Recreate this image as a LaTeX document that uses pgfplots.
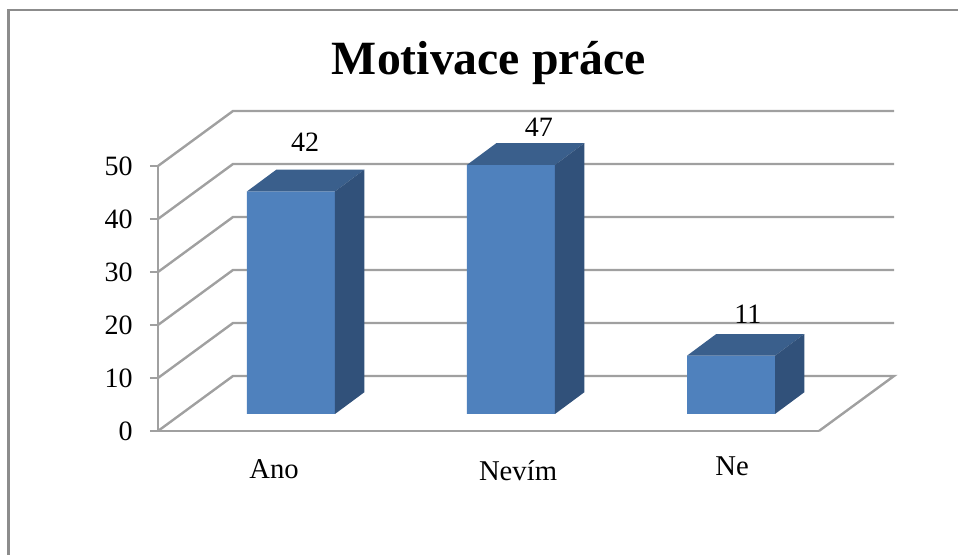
\documentclass[border=0pt]{standalone}
\usepackage{fontspec}
\setmainfont{Liberation Serif}
\usepackage{pgfplots}
\usepackage{pgfplotstable}
\pgfplotsset{compat=1.18}
\definecolor{barfront}{HTML}{4F81BD}
\definecolor{bartop}{HTML}{3A5F8C}
\definecolor{barside}{HTML}{31517A}
\definecolor{gridc}{HTML}{A0A0A0}
\definecolor{framec}{HTML}{8C8C8C}
\pgfplotstableread{
x v
0 42
1 47
2 11
}\bars
\pgfplotstableread{
x y v
0.064 51.2 42
1.127 54.15 47
2.077 18.87 11
}\barlabels
\begin{document}
\begin{tikzpicture}
\path[use as bounding box] (-118.5pt,-93pt) rectangle (600pt,323.25pt);
\draw[framec,line width=1.9pt] (-112.1pt,-93pt) -- (-112.1pt,315.75pt) -- (600pt,315.75pt);
% walls, floor, ticks, title
\begin{axis}[
  at={(0pt,0pt)},anchor=south west,scale only axis,
  width=495.75pt,height=198.75pt,
  xmin=-0.6045,xmax=2.4,ymin=0,ymax=50,
  clip=false,
  axis y line*=left,axis x line*=bottom,
  axis line style={-,gridc,line width=1.8pt},
  ytick={0,10,20,30,40,50},
  xtick={-0.077,1.032,2.005},
  xticklabels={Ano,{\raisebox{-1pt}{Nevím}},{\raisebox{2.5pt}{Ne}}},
  xtick style={draw=none},
  ytick style={gridc,line width=1.8pt},
  tick align=outside,
  major tick length=6pt,
  yticklabel style={font=\fontsize{21}{21}\selectfont,/pgf/number format/assume math mode=true,xshift=-9.5pt},
  xticklabel style={font=\fontsize{21.5}{21.5}\selectfont,anchor=base,yshift=-30pt},
  title={\textbf{Motivace práce}},
  title style={font=\fontsize{35.8}{36}\selectfont,at={(rel axis cs:0.5008,1.3585)},anchor=center},
]
\addplot[gridc,line width=1.8pt] coordinates {(2.4,0) (2.741,10.38) (-0.2635,10.38) (-0.6045,0)};
\addplot[gridc,line width=1.8pt] coordinates {(-0.6045,10) (-0.2635,20.38) (2.741,20.38)};
\addplot[gridc,line width=1.8pt] coordinates {(-0.6045,20) (-0.2635,30.38) (2.741,30.38)};
\addplot[gridc,line width=1.8pt] coordinates {(-0.6045,30) (-0.2635,40.38) (2.741,40.38)};
\addplot[gridc,line width=1.8pt] coordinates {(-0.6045,40) (-0.2635,50.38) (2.741,50.38)};
\addplot[gridc,line width=1.8pt] coordinates {(-0.6045,50) (-0.2635,60.38) (2.741,60.38)};
\end{axis}
% bars, standing on the floor further back
\begin{axis}[
  at={(0pt,12.75pt)},anchor=south west,scale only axis,
  width=495.75pt,height=198.75pt,
  xmin=-0.6045,xmax=2.4,ymin=0,ymax=50,
  clip=false,hide axis,
]
\addplot[ybar,bar width=0.4,bar shift=0pt,fill=barfront,draw=none] table[x=x,y=v] {\bars};
\addplot[fill=bartop,draw=none] coordinates {(-0.2,42) (0.2,42) (0.333,46.09) (-0.067,46.09)} -- cycle;
\addplot[fill=barside,draw=none] coordinates {(0.2,0) (0.2,42) (0.333,46.09) (0.333,4.09)} -- cycle;
\addplot[fill=bartop,draw=none] coordinates {(0.8,47) (1.2,47) (1.333,51.09) (0.933,51.09)} -- cycle;
\addplot[fill=barside,draw=none] coordinates {(1.2,0) (1.2,47) (1.333,51.09) (1.333,4.09)} -- cycle;
\addplot[fill=bartop,draw=none] coordinates {(1.8,11) (2.2,11) (2.333,15.09) (1.933,15.09)} -- cycle;
\addplot[fill=barside,draw=none] coordinates {(2.2,0) (2.2,11) (2.333,15.09) (2.333,4.09)} -- cycle;
\addplot[draw=none,mark=none,nodes near coords,point meta=explicit,
  nodes near coords style={anchor=center,font=\fontsize{21}{21}\selectfont,text=black,/pgf/number format/assume math mode=true}]
  table[x=x,y=y,meta=v] {\barlabels};
\end{axis}
\end{tikzpicture}
\end{document}
